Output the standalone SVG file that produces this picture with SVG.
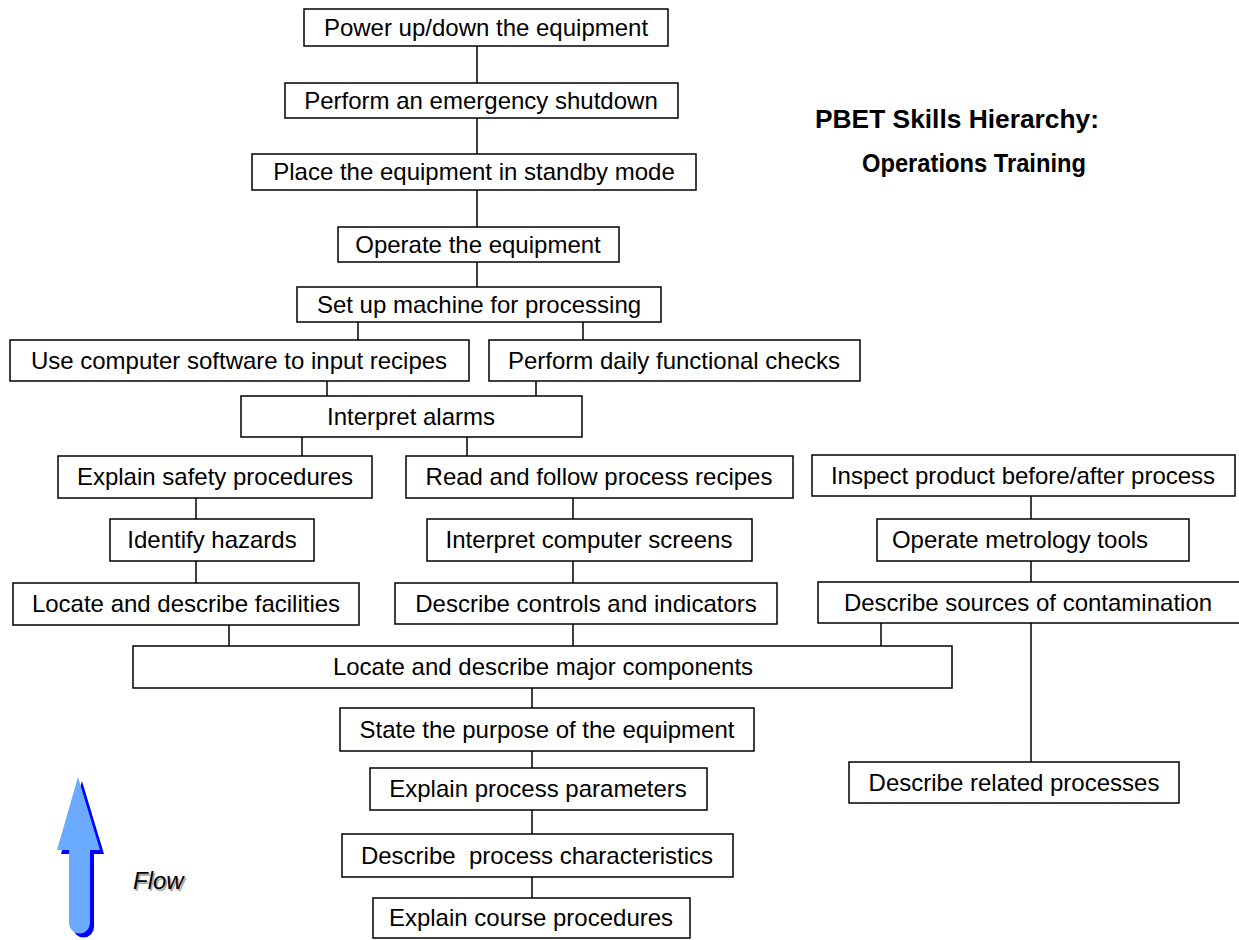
<svg xmlns="http://www.w3.org/2000/svg" width="1239" height="940" viewBox="0 0 1239 940">
<defs>
<style>
.box rect{fill:#fff;stroke:#000;stroke-width:1.5}
.box text{font-family:"Liberation Sans",Arial,sans-serif;font-size:24px;fill:#000;text-anchor:middle}
#connectors line{stroke:#000;stroke-width:1.5}
.title{font-family:"Liberation Sans",Arial,sans-serif;font-size:25px;font-weight:bold;fill:#000}
.flow{font-family:"Liberation Sans",Arial,sans-serif;font-size:24px;font-style:italic}
</style>
<path id="arrowShape" d="M78,777 L100,850 L90,850 L90,923 A10.5,10.5 0 0 1 69,923 L69,850 L57,850 Z"/>
</defs>
<rect width="1239" height="940" fill="#fff"/>
<g id="connectors">
<line x1="477" y1="46" x2="477" y2="83"/>
<line x1="477" y1="118" x2="477" y2="154"/>
<line x1="477" y1="190" x2="477" y2="227"/>
<line x1="477" y1="262" x2="477" y2="287"/>
<line x1="358" y1="322" x2="358" y2="340"/>
<line x1="583" y1="322" x2="583" y2="340"/>
<line x1="327" y1="381" x2="327" y2="396"/>
<line x1="536" y1="381" x2="536" y2="396"/>
<line x1="302" y1="437" x2="302" y2="456"/>
<line x1="467" y1="437" x2="467" y2="456"/>
<line x1="196" y1="498" x2="196" y2="519"/>
<line x1="196" y1="561" x2="196" y2="583"/>
<line x1="573" y1="498" x2="573" y2="519"/>
<line x1="573" y1="561" x2="573" y2="583"/>
<line x1="1031" y1="496" x2="1031" y2="519"/>
<line x1="1031" y1="561" x2="1031" y2="582"/>
<line x1="229" y1="625" x2="229" y2="646"/>
<line x1="573" y1="624" x2="573" y2="646"/>
<line x1="881" y1="623" x2="881" y2="646"/>
<line x1="1031" y1="623" x2="1031" y2="762"/>
<line x1="532" y1="688" x2="532" y2="708"/>
<line x1="532" y1="751" x2="532" y2="768"/>
<line x1="532" y1="810" x2="532" y2="834"/>
<line x1="532" y1="877" x2="532" y2="898"/>
</g>
<g id="n1" class="box"><rect x="304" y="9" width="364" height="37"/><text x="486" y="36">Power up/down the equipment</text></g>
<g id="n2" class="box"><rect x="285" y="83" width="393" height="35"/><text x="481" y="109">Perform an emergency shutdown</text></g>
<g id="n3" class="box"><rect x="252" y="154" width="444" height="36"/><text x="474" y="180">Place the equipment in standby mode</text></g>
<g id="n4" class="box"><rect x="338" y="227" width="281" height="35"/><text x="478" y="253">Operate the equipment</text></g>
<g id="n5" class="box"><rect x="297" y="287" width="364" height="35"/><text x="479" y="313">Set up machine for processing</text></g>
<g id="n6" class="box"><rect x="10" y="340" width="459" height="41"/><text x="239" y="369">Use computer software to input recipes</text></g>
<g id="n7" class="box"><rect x="489" y="340" width="371" height="41"/><text x="674" y="369">Perform daily functional checks</text></g>
<g id="n8" class="box"><rect x="241" y="396" width="341" height="41"/><text x="411" y="425">Interpret alarms</text></g>
<g id="n9" class="box"><rect x="58" y="456" width="314" height="42"/><text x="215" y="485">Explain safety procedures</text></g>
<g id="n10" class="box"><rect x="406" y="456" width="387" height="42"/><text x="599" y="485">Read and follow process recipes</text></g>
<g id="n11" class="box"><rect x="812" y="455" width="423" height="41"/><text x="1023" y="484">Inspect product before/after process</text></g>
<g id="n12" class="box"><rect x="110" y="519" width="204" height="42"/><text x="212" y="548">Identify hazards</text></g>
<g id="n13" class="box"><rect x="427" y="519" width="325" height="42"/><text x="589" y="548">Interpret computer screens</text></g>
<g id="n14" class="box"><rect x="877" y="519" width="312" height="42"/><text x="1020" y="548">Operate metrology tools</text></g>
<g id="n15" class="box"><rect x="13" y="583" width="346" height="42"/><text x="186" y="612">Locate and describe facilities</text></g>
<g id="n16" class="box"><rect x="395" y="583" width="382" height="41"/><text x="586" y="612">Describe controls and indicators</text></g>
<g id="n17" class="box"><rect x="818" y="582" width="425" height="41"/><text x="1028" y="611">Describe sources of contamination</text></g>
<g id="n18" class="box"><rect x="133" y="646" width="819" height="42"/><text x="543" y="675">Locate and describe major components</text></g>
<g id="n19" class="box"><rect x="340" y="708" width="414" height="43"/><text x="547" y="738">State the purpose of the equipment</text></g>
<g id="n20" class="box"><rect x="370" y="768" width="337" height="42"/><text x="538" y="797">Explain process parameters</text></g>
<g id="n21" class="box"><rect x="342" y="834" width="391" height="43"/><text x="537" y="864" xml:space="preserve">Describe  process characteristics</text></g>
<g id="n22" class="box"><rect x="373" y="898" width="317" height="40"/><text x="531" y="926">Explain course procedures</text></g>
<g id="n23" class="box"><rect x="849" y="762" width="330" height="41"/><text x="1014" y="791">Describe related processes</text></g>
<g id="title">
<text class="title" x="815" y="128" textLength="284" lengthAdjust="spacingAndGlyphs">PBET Skills Hierarchy:</text>
<text class="title" x="862" y="172" textLength="224" lengthAdjust="spacingAndGlyphs">Operations Training</text>
</g>
<g id="flow-arrow">
<use href="#arrowShape" transform="translate(4,4)" fill="#0000ff"/>
<use href="#arrowShape" fill="#6aabff"/>
<text class="flow" x="134.5" y="890.5" fill="#aaaaaa">Flow</text>
<text class="flow" x="133" y="889" fill="#000">Flow</text>
</g>
</svg>
